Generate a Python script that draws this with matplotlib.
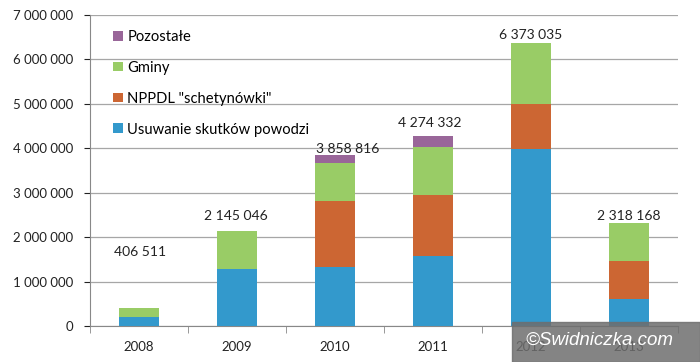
import numpy as np
import matplotlib.pyplot as plt
from matplotlib.patches import Rectangle

plt.rcParams.update({
    'font.family': ['Lato', 'DejaVu Sans'],
    'font.size': 9.5,
})

years = ['2008', '2009', '2010', '2011', '2012', '2013']
powodz = [210000, 1277000, 1336000, 1577000, 3990000, 600000]
nppdl = [0, 0, 1484000, 1380000, 1000000, 864000]
gminy = [196511, 868046, 840000, 1083000, 1383035, 854168]
pozostale = [0, 0, 198816, 234332, 0, 0]
totals = [406511, 2145046, 3858816, 4274332, 6373035, 2318168]
total_labels = ['406 511', '2 145 046', '3 858 816', '4 274 332', '6 373 035', '2 318 168']

series = [
    ('Usuwanie skutków powodzi', powodz, '#3399cc'),
    ('NPPDL "schetynówki"', nppdl, '#cc6633'),
    ('Gminy', gminy, '#99cc66'),
    ('Pozostałe', pozostale, '#996699'),
]

fig = plt.figure(figsize=(7, 3.62), dpi=100)
ax = fig.add_axes([0.1286, 0.0994, 0.84, 0.8592])

x = np.arange(len(years))
bottom = np.zeros(len(years))
handles = []
for name, vals, col in series:
    vals = np.array(vals, dtype=float)
    b = ax.bar(x, vals, 0.4, bottom=bottom, color=col, label=name, zorder=3)
    handles.append(b)
    bottom += vals

# total labels above bars (2008 sits higher in the original)
offsets = [(1, 36), (-1, 6), (9, 0), (-2, 5), (0, 1), (0, 1)]
for i, (t, lab) in enumerate(zip(totals, total_labels)):
    ax.annotate(lab, (x[i], t), xytext=offsets[i], textcoords='offset points',
                ha='center', va='bottom', fontsize=10, color='#222222')

ax.set_xlim(-0.5, len(years) - 0.5)
ax.set_ylim(0, 7000000)
yt = np.arange(0, 7000001, 1000000)
ax.set_yticks(yt)
ax.set_yticklabels(['{:,}'.format(v).replace(',', ' ') for v in yt])
ax.set_xticks(x)
ax.set_xticklabels(years)
ax.set_xticks(np.arange(-0.5, len(years)), minor=True)
ax.tick_params(axis='x', which='major', length=0, pad=11)
ax.tick_params(axis='x', which='minor', length=5, color='#888888')
ax.tick_params(axis='y', length=4, color='#888888', pad=8)
ax.tick_params(colors='#222222', which='both', labelsize=9.5)
ax.tick_params(axis='x', which='minor', colors='#888888')

ax.grid(axis='y', color='#a6a6a6', linewidth=0.9, zorder=0)
for s in ['top', 'right']:
    ax.spines[s].set_visible(False)
for s in ['left', 'bottom']:
    ax.spines[s].set_color('#888888')

leg = ax.legend(handles[::-1], [h.get_label() for h in handles[::-1]],
                loc='upper left', bbox_to_anchor=(0.017, 0.995), frameon=False,
                handlelength=0.65, handleheight=0.65, handletextpad=0.3,
                labelspacing=1.15, fontsize=10.6)

# watermark box
fig.patches.append(Rectangle((512 / 700, 0), 188 / 700, 40 / 362, transform=fig.transFigure,
                             color='#6e6e6e', alpha=0.85, zorder=10))
fig.text(0.857, 0.06, '\u00a9Swidniczka.com', color='white', style='italic',
         fontsize=13.5, ha='center', va='center', family=['Liberation Sans', 'DejaVu Sans'], zorder=11)

fig.savefig('out.png', dpi=100)
